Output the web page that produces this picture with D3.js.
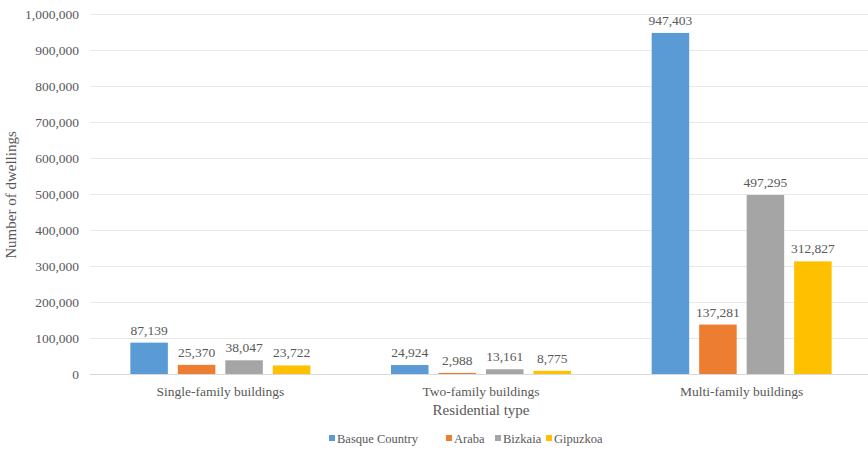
<!DOCTYPE html>
<html>
<head>
<meta charset="utf-8">
<script src="https://cdn.jsdelivr.net/npm/d3@7"></script>
</head>
<body style="margin:0;background:#fff">
<div id="chart"></div>
<script>
// datos del grafico
const categories = ["Single-family buildings", "Two-family buildings", "Multi-family buildings"];
const regions = ["Basque Country", "Araba", "Bizkaia", "Gipuzkoa"];
const basqueCountry = [87139, 24924, 947403];
const araba = [25370, 2988, 137281];
const bizkaia = [38047, 13161, 497295];
const gipuzkoa = [23722, 8775, 312827];
const yTicks = [0, 100000, 200000, 300000, 400000, 500000, 600000, 700000, 800000, 900000, 1000000];
const colors = ["#5B9BD5", "#ED7D31", "#A5A5A5", "#FFC000"];

const series = [basqueCountry, araba, bizkaia, gipuzkoa];
const data = categories.map((c, i) => ({
  cat: c,
  values: regions.map((r, j) => ({ region: r, value: series[j][i] }))
}));

const FONT = '"Liberation Serif"';
const TXT = "#595959";
const W = 868, H = 454;
const svg = d3.select("#chart").append("svg").attr("width", W).attr("height", H);

// escaladores
const x0 = d3.scaleBand().domain(categories).range([90, 872]).padding(0);
const x1 = d3.scaleBand().domain(regions).range([-90, 90]).paddingInner(0.21).paddingOuter(0);
const y = d3.scaleLinear().domain([0, 1000000]).range([374, 14]);
const color = d3.scaleOrdinal().domain(regions).range(colors);
const fmt = d3.format(",");

// lineas de cuadricula + etiquetas eje y
const yAxis = svg.append("g")
  .attr("transform", "translate(90,0)")
  .call(d3.axisLeft(y).tickValues(yTicks).tickFormat(fmt).tickSize(-(W - 90)).tickPadding(11));
yAxis.select(".domain").remove();
yAxis.selectAll(".tick line").attr("stroke", (d) => d === 0 ? "#d9d9d9" : "#e8e8e8").attr("stroke-width", 1);
yAxis.selectAll(".tick text")
  .style("font-family", FONT).style("font-size", "13.5px").attr("fill", TXT);

// barras
const groups = svg.selectAll(".grp").data(data).enter().append("g")
  .attr("class", "grp")
  .attr("transform", (d) => `translate(${x0(d.cat) + x0.bandwidth() / 2},0)`);

groups.selectAll("rect").data((d) => d.values).enter().append("rect")
  .attr("x", (d) => x1(d.region))
  .attr("y", (d) => y(d.value))
  .attr("width", x1.bandwidth())
  .attr("height", (d) => y(0) - y(d.value))
  .attr("fill", (d) => color(d.region));

groups.selectAll(".lbl").data((d) => d.values).enter().append("text")
  .attr("class", "lbl")
  .attr("x", (d) => x1(d.region) + x1.bandwidth() / 2)
  .attr("y", (d) => y(d.value) - 8)
  .attr("text-anchor", "middle")
  .attr("fill", TXT)
  .style("font-family", FONT).style("font-size", "13.5px")
  .text((d) => fmt(d.value));

// etiquetas eje x
svg.append("g").selectAll("text").data(categories).enter().append("text")
  .attr("x", (d) => x0(d) + x0.bandwidth() / 2)
  .attr("y", 396)
  .attr("text-anchor", "middle")
  .attr("fill", TXT)
  .style("font-family", FONT).style("font-size", "13.5px")
  .text((d) => d);

// titulos de ejes
svg.append("text")
  .attr("x", 481).attr("y", 415)
  .attr("text-anchor", "middle")
  .attr("fill", TXT)
  .style("font-family", FONT).style("font-size", "15px")
  .text("Residential type");

svg.append("text")
  .attr("transform", "translate(16,195) rotate(-90)")
  .attr("text-anchor", "middle")
  .attr("fill", TXT)
  .style("font-family", FONT).style("font-size", "15px")
  .text("Number of dwellings");

// leyenda
const legX = [329, 446, 495, 546];
const legend = svg.append("g").selectAll("g").data(regions).enter().append("g")
  .attr("transform", (d, i) => `translate(${legX[i]},443)`);
legend.append("rect").attr("x", 0).attr("y", -8).attr("width", 6).attr("height", 6)
  .attr("fill", (d) => color(d));
legend.append("text").attr("x", 8).attr("y", 0)
  .attr("fill", TXT)
  .style("font-family", FONT).style("font-size", "12.5px")
  .text((d) => d);
</script>
</body>
</html>
